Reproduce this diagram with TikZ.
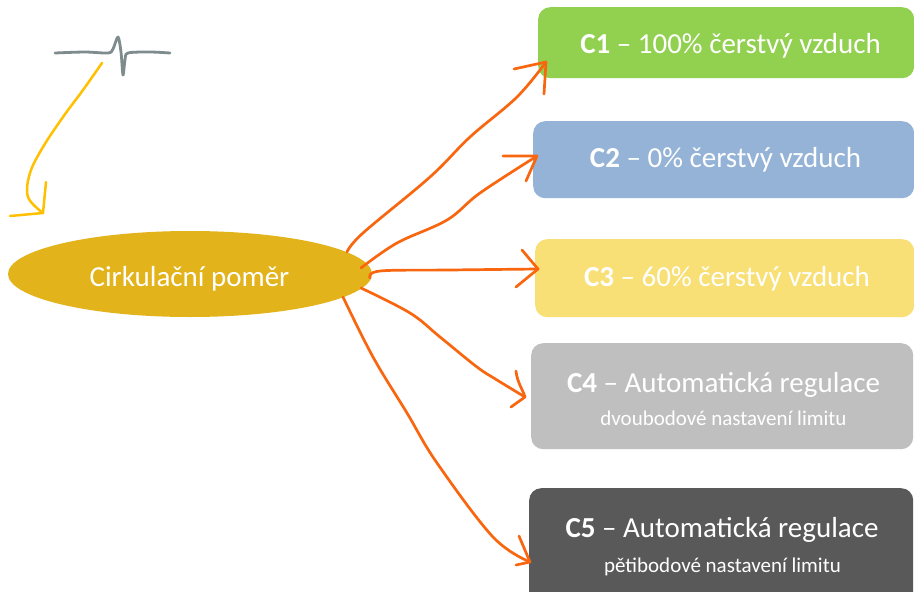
\documentclass[tikz,border=0pt]{standalone}
\usepackage{fontspec}
\setmainfont{Carlito}
\usetikzlibrary{shapes.geometric}
\definecolor{cgreen}{HTML}{92D050}
\definecolor{cblue}{HTML}{95B3D7}
\definecolor{cyell}{HTML}{F9E076}
\definecolor{clgray}{HTML}{BFBFBF}
\definecolor{cdgray}{HTML}{595959}
\definecolor{cgold}{HTML}{E2B31A}
\definecolor{corange}{HTML}{F96610}
\definecolor{cyelpen}{HTML}{FFC000}
\definecolor{cgraypen}{HTML}{7F8C8D}
\begin{document}
\begin{tikzpicture}[x=1pt,y=-1pt,
  box/.style={rounded corners=12pt, inner sep=0pt, anchor=north west, draw=none},
  txt/.style={text=white, font=\fontsize{29}{34}\selectfont, anchor=base, inner sep=0pt},
  sub/.style={text=white, font=\fontsize{21}{25}\selectfont, anchor=base, inner sep=0pt},
  hand/.style={draw=corange, line width=2.7pt, line cap=round, line join=round},
  yelpen/.style={draw=cyelpen, line width=2.5pt, line cap=round, line join=round},
  graypen/.style={draw=cgraypen, line width=2.8pt, line cap=round, line join=round}]
\useasboundingbox (0,0) rectangle (914,592);
\clip (0,0) rectangle (914,592);
\fill[white] (0,0) rectangle (914,592);

% central ellipse
\node[ellipse, fill=cgold, minimum width=364pt, minimum height=86pt, inner sep=0pt] (cp) at (190,274) {};
\node[txt] (cpt) at (189.5,286) {Cirkulační poměr};

% boxes
\node[box, fill=cgreen, minimum width=376pt, minimum height=71pt] (c1) at (538,7) {};
\node[box, fill=cblue, minimum width=381pt, minimum height=77pt] (c2) at (533,121) {};
\node[box, fill=cyell, minimum width=379pt, minimum height=78pt] (c3) at (535,239) {};
\node[box, fill=clgray, minimum width=382pt, minimum height=106pt] (c4) at (531,343) {};
\node[box, fill=cdgray, minimum width=384pt, minimum height=116pt] (c5) at (529,488) {};

\node[txt] (t1) at (730.5,53) {\textbf{C1} – 100\% čerstvý vzduch};
\node[txt] (t2) at (725.5,167) {\textbf{C2} – 0\% čerstvý vzduch};
\node[txt] (t3) at (727,286) {\textbf{C3} – 60\% čerstvý vzduch};
\node[txt] (t4) at (723.5,392) {\textbf{C4} – Automatická regulace};
\node[sub] (s4) at (723.5,425) {dvoubodové nastavení limitu};
\node[txt] (t5) at (722,537) {\textbf{C5} – Automatická regulace};
\node[sub] (s5) at (722.5,572) {pětibodové nastavení limitu};

% orange hand-drawn connectors
\coordinate (a1s) at (347,252); \coordinate (a1t) at (546,62);
\coordinate (a2s) at (361,268); \coordinate (a2t) at (537,156);
\coordinate (a3s) at (370,278); \coordinate (a3t) at (538,269);
\coordinate (a4s) at (361,288); \coordinate (a4t) at (525,397);
\coordinate (a5s) at (343,297); \coordinate (a5t) at (530,562);

\draw[hand] plot[smooth, tension=0.6] coordinates {(a1s) (363,233) (430,177) (470,137) (517,97) (a1t)};
\draw[hand] (514,69) -- (a1t) -- (544,94);

\draw[hand] plot[smooth, tension=0.6] coordinates {(a2s) (397,243) (447,220) (480,193) (a2t)};
\draw[hand] (503,156) -- (a2t) -- (526,181);

\draw[hand] plot[smooth, tension=0.6] coordinates {(a3s) (380,271) (450,270) (a3t)};
\draw[hand] (522,250) -- (a3t) -- (516,287);

\draw[hand] plot[smooth, tension=0.6] coordinates {(a4s) (410,313) (440,337) (477,367) (497,380) (a4t)};
\draw[hand] (516,371) .. controls (517,382) and (523,390) .. (a4t) -- (511,407);

\draw[hand] plot[smooth, tension=0.6] coordinates {(a5s) (373,357) (407,413) (437,463) (493,537) (a5t)};
\draw[hand] (519,536) -- (a5t) -- (516,565);

% grey squiggle
\coordinate (g1) at (55,53); \coordinate (g2) at (170,53);
\draw[graypen] plot[smooth, tension=0.5] coordinates {(g1) (85,52) (108,53) (113,49) (118,37) (121,52) (123,75) (125,60) (128,53) (150,52) (g2)};

% yellow hand-drawn arrow
\coordinate (y1) at (102,63); \coordinate (y2) at (43,213);
\draw[yelpen] plot[smooth, tension=0.6] coordinates {(y1) (83,90) (63,117) (43,147) (30,173) (28,197) (y2)};
\draw[yelpen] (46,182) -- (y2) -- (10,216);
\end{tikzpicture}
\end{document}
